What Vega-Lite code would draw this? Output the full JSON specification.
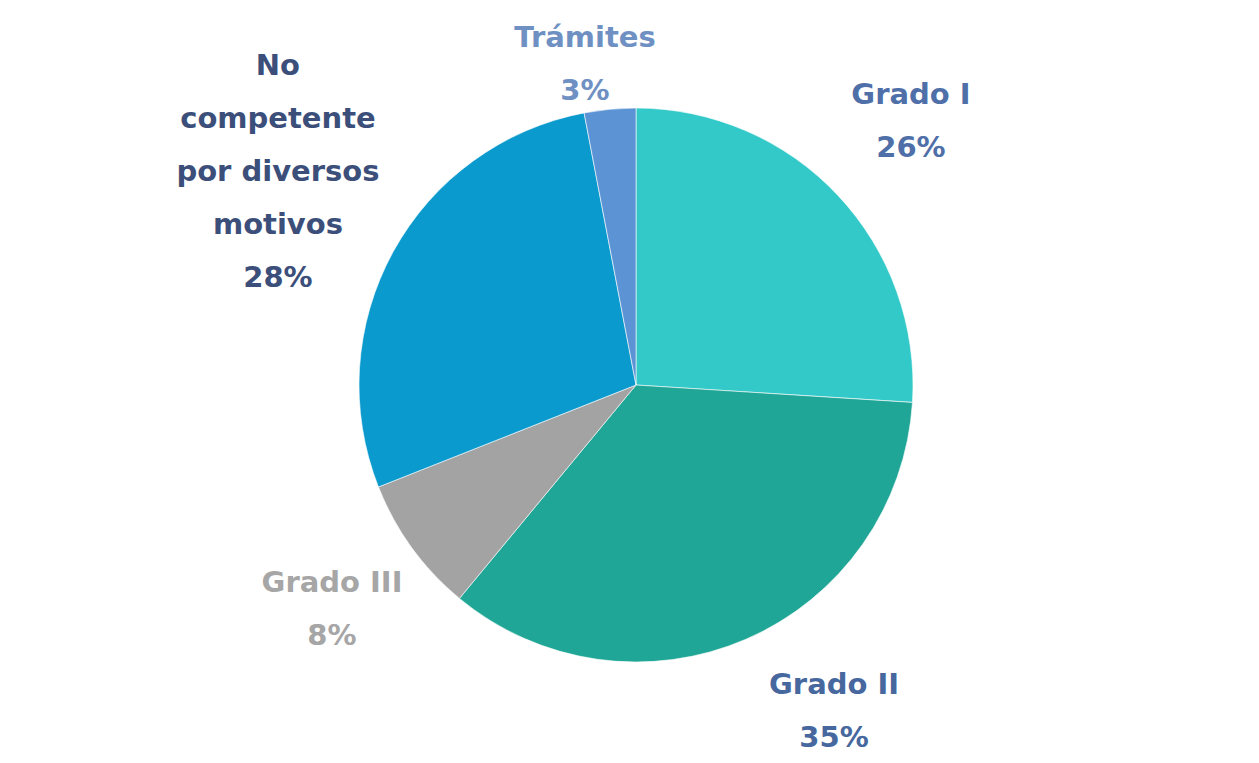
{
  "$schema": "https://vega.github.io/schema/vega-lite/v6.json",
  "width": 1259,
  "height": 763,
  "autosize": {"type": "fit", "contains": "padding"},
  "padding": {"left": 13, "top": 7, "right": 0, "bottom": 0},
  "background": "#ffffff",
  "config": {"view": {"stroke": null}},
  "data": {
    "values": [
      {"category": "Grado I", "label": "Grado I", "value": 26},
      {"category": "Grado II", "label": "Grado II", "value": 35},
      {"category": "Grado III", "label": "Grado III", "value": 8},
      {"category": "No competente por diversos motivos", "label": "No\ncompetente\npor diversos\nmotivos", "value": 28},
      {"category": "Trámites", "label": "Trámites", "value": 3}
    ]
  },
  "transform": [
    {"stack": "value", "groupby": [], "as": ["v0", "v1"]},
    {"calculate": "(datum.v0 + datum.v1) / 2", "as": "mid"},
    {"calculate": "datum.label + '\\n' + datum.value + '%'", "as": "text"}
  ],
  "layer": [
    {
      "mark": {"type": "arc", "radius": 277, "stroke": "#ffffff", "strokeWidth": 1, "strokeOpacity": 0.6},
      "encoding": {
        "theta": {"field": "v0", "type": "quantitative", "scale": {"domain": [0, 100]}},
        "theta2": {"field": "v1"},
        "color": {
          "field": "category",
          "type": "nominal",
          "scale": {
            "domain": ["Grado I", "Grado II", "Grado III", "No competente por diversos motivos", "Trámites"],
            "range": ["#33C9C9", "#1FA696", "#A3A3A3", "#0B9ACD", "#5B93D5"]
          },
          "legend": null
        }
      }
    },
    {
      "transform": [{"filter": "datum.category == 'Grado I'"}],
      "mark": {"type": "text", "radius": 399.6, "thetaOffset": -0.058, "font": "DejaVu Sans", "fontWeight": "bold", "fontSize": 29, "lineHeight": 52.5, "lineBreak": "\n", "align": "center", "baseline": "middle", "color": "#4F6FA8"},
      "encoding": {"theta": {"field": "mid", "type": "quantitative"}, "text": {"field": "text"}}
    },
    {
      "transform": [{"filter": "datum.category == 'Grado II'"}],
      "mark": {"type": "text", "radius": 359.5, "thetaOffset": -0.175, "font": "DejaVu Sans", "fontWeight": "bold", "fontSize": 29, "lineHeight": 52.5, "lineBreak": "\n", "align": "center", "baseline": "middle", "color": "#46689E"},
      "encoding": {"theta": {"field": "mid", "type": "quantitative"}, "text": {"field": "text"}}
    },
    {
      "transform": [{"filter": "datum.category == 'Grado III'"}],
      "mark": {"type": "text", "radius": 362.8, "thetaOffset": 0.051, "font": "DejaVu Sans", "fontWeight": "bold", "fontSize": 29, "lineHeight": 52.5, "lineBreak": "\n", "align": "center", "baseline": "middle", "color": "#A6A6A6"},
      "encoding": {"theta": {"field": "mid", "type": "quantitative"}, "text": {"field": "text"}}
    },
    {
      "transform": [{"filter": "datum.category == 'No competente por diversos motivos'"}],
      "mark": {"type": "text", "radius": 479.5, "thetaOffset": 0.225, "font": "DejaVu Sans", "fontWeight": "bold", "fontSize": 29, "lineHeight": 53, "lineBreak": "\n", "align": "center", "baseline": "middle", "color": "#3B4F7A"},
      "encoding": {"theta": {"field": "mid", "type": "quantitative"}, "text": {"field": "text"}}
    },
    {
      "transform": [{"filter": "datum.category == 'Trámites'"}],
      "mark": {"type": "text", "radius": 350.7, "thetaOffset": -0.0517, "font": "DejaVu Sans", "fontWeight": "bold", "fontSize": 29, "lineHeight": 52.5, "lineBreak": "\n", "align": "center", "baseline": "middle", "color": "#6F90C2"},
      "encoding": {"theta": {"field": "mid", "type": "quantitative"}, "text": {"field": "text"}}
    }
  ]
}
